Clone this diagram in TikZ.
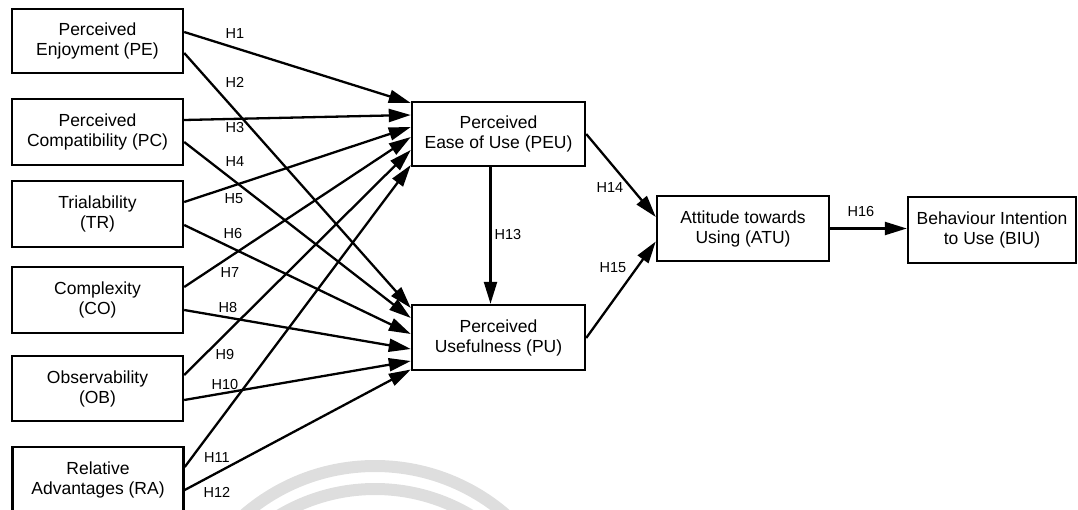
\documentclass[tikz,border=0pt]{standalone}
\usepackage{fontspec}
\setmainfont{Liberation Sans}
\usetikzlibrary{arrows.meta,calc}
\tikzset{
  box/.style={draw, line width=2.4pt, inner sep=0pt, align=center, font=\fontsize{17.5}{20}\selectfont},
  lbox/.style={box, minimum width=171pt},
  cbox/.style={box, minimum width=173pt},
  link/.style={line width=2.3pt, -{Triangle[length=22pt,width=13pt]}},
  hlab/.style={font=\fontsize{14.5}{16}\selectfont, inner sep=0pt},
  wmark/.style={draw=black!13, line width=12pt}
}
\begin{document}
\begin{tikzpicture}[x=1pt,y=-1pt]
\useasboundingbox (0,0) rectangle (1078,510);
\begin{scope}
  \clip (0,0) rectangle (1078,510);
  \draw[wmark] (375,666) circle[radius=200];
  \draw[wmark] (375,676) circle[radius=187];
\end{scope}
% left boxes
\node[lbox, minimum height=64pt] (PE) at (97.5,41) {Perceived\\Enjoyment (PE)};
\node[lbox, minimum height=66pt] (PC) at (97.5,132) {Perceived\\Compatibility (PC)};
\node[lbox, minimum height=66pt] (TR) at (97.5,214) {Trialability\\(TR)};
\node[lbox, minimum height=66pt] (CO) at (97.5,300) {Complexity\\(CO)};
\node[lbox, minimum height=65pt] (OB) at (97.5,388.5) {Observability\\(OB)};
\node[lbox, minimum height=66pt] (RA) at (98,480) {Relative\\Advantages (RA)};
% middle boxes
\node[cbox, minimum height=64pt] (PEU) at (498.5,134) {Perceived\\Ease of Use (PEU)};
\node[cbox, minimum height=65pt] (PU) at (498.5,337.5) {Perceived\\Usefulness (PU)};
\node[box, minimum width=172pt, minimum height=65pt] (ATU) at (743,228.5) {Attitude towards\\Using (ATU)};
\node[box, minimum width=168pt, minimum height=66pt] (BIU) at (992,230) {Behaviour Intention\\to Use (BIU)};
% connectors
\draw[link] ([yshift=9pt]PE.east) -- ([yshift=31pt]PEU.west);
\draw[link] ([yshift=-12pt]PE.east) -- ([yshift=29.5pt]PU.west);
\draw[link] ([yshift=12pt]PC.east) -- ([yshift=19pt]PEU.west);
\draw[link] ([yshift=-10pt]PC.east) -- ([yshift=19.5pt]PU.west);
\draw[link] ([yshift=12pt]TR.east) -- ([yshift=7pt]PEU.west);
\draw[link] ([yshift=-11pt]TR.east) -- ([yshift=3.5pt]PU.west);
\draw[link] ([yshift=13pt]CO.east) -- ([yshift=-3pt]PEU.west);
\draw[link] ([yshift=-10pt]CO.east) -- ([yshift=-11.5pt]PU.west);
\draw[link] ([yshift=13.5pt]OB.east) -- ([yshift=-16pt]PEU.west);
\draw[link] ([yshift=-11.5pt]OB.east) -- ([yshift=-23.5pt]PU.west);
\draw[link] ([yshift=13pt]RA.east) -- ([yshift=-31pt]PEU.west);
\draw[link] ([yshift=-10pt]RA.east) -- ([yshift=-32pt]PU.west);
\draw[link] ([xshift=-8pt]PEU.south) -- ([xshift=-8pt]PU.north);
\draw[link] (PEU.east) -- ([yshift=11.5pt]ATU.west);
\draw[link] ([yshift=-0.5pt]PU.east) -- ([yshift=-13pt]ATU.west);
\draw[link] (ATU.east) -- (ATU.east -| BIU.west);
% labels
\node[hlab] (h1) at (235,34) {H1};
\node[hlab] (h2) at (235,82) {H2};
\node[hlab] (h3) at (235,128) {H3};
\node[hlab] (h4) at (235,162) {H4};
\node[hlab] (h5) at (234,199) {H5};
\node[hlab] (h6) at (233,234) {H6};
\node[hlab] (h7) at (230,273) {H7};
\node[hlab] (h8) at (228,308) {H8};
\node[hlab] (h9) at (225,355) {H9};
\node[hlab] (h10) at (225,385) {H10};
\node[hlab] (h11) at (217,458) {H11};
\node[hlab] (h12) at (217,492) {H12};
\node[hlab] (h13) at (508,235) {H13};
\node[hlab] (h14) at (610,188) {H14};
\node[hlab] (h15) at (613,268) {H15};
\node[hlab] (h16) at (861,212) {H16};
\end{tikzpicture}
\end{document}
